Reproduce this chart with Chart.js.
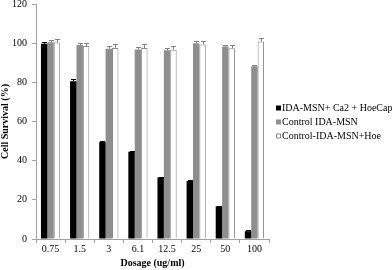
<!DOCTYPE html>
<html>
<head>
<meta charset="utf-8">
<script src="https://cdn.jsdelivr.net/npm/chart.js@4/dist/chart.umd.min.js"></script>
<style>
  html, body { margin: 0; padding: 0; background: #fff; }
  #wrap { width: 392px; height: 270px; }
</style>
</head>
<body>
<div id="wrap"><canvas id="chart" width="392" height="270"></canvas></div>
<script>
const dosages = ["0.75", "1.5", "3", "6.1", "12.5", "25", "50", "100"];
const yTicks = [0, 20, 40, 60, 80, 100, 120];

const treated = [99.7, 80.6, 49.5, 44.6, 31.5, 29.6, 16.7, 4.0];
const treatedErr = [0.8, 1.0, 0.5, 0.5, 0.4, 0.4, 0.4, 0.4];
const controlMsn = [100.5, 99.1, 97.2, 96.8, 96.4, 100.0, 98.3, 88.2];
const controlMsnErr = [1.0, 1.2, 1.2, 1.2, 1.3, 1.2, 0.9, 0.8];
const controlHoe = [100.3, 98.5, 97.5, 97.5, 96.6, 99.3, 97.4, 100.8];
const controlHoeErr = [2.0, 1.8, 2.0, 2.0, 2.0, 1.6, 1.6, 2.0];

const errors = [treatedErr, controlMsnErr, controlHoeErr];
const serif = "'Liberation Serif', 'DejaVu Serif', serif";

// caps drawn on top of each bar
const errorBars = {
  id: "errorBars",
  afterDatasetsDraw(chart) {
    const ctx = chart.ctx;
    const y = chart.scales.y;
    ctx.save();
    ctx.lineWidth = 1;
    chart.data.datasets.forEach(function (ds, i) {
      const meta = chart.getDatasetMeta(i);
      ctx.strokeStyle = i === 0 ? "#000" : "#808080";
      meta.data.forEach(function (bar, j) {
        const top = Math.round(y.getPixelForValue(ds.data[j] + errors[i][j])) + 0.5;
        const x = Math.round(bar.x) + 0.5;
        ctx.beginPath();
        ctx.moveTo(x, bar.y);
        ctx.lineTo(x, top);
        ctx.moveTo(x - 2.5, top);
        ctx.lineTo(x + 2.5, top);
        ctx.stroke();
      });
    });
    ctx.restore();
  }
};

// legend to the right of the plot, like the original
const sideLegend = {
  id: "sideLegend",
  afterDraw(chart) {
    const ctx = chart.ctx;
    const left = chart.chartArea.right + 7;
    const rowY = [108, 122, 136];
    ctx.save();
    ctx.font = "10px " + serif;
    ctx.textBaseline = "middle";
    chart.data.datasets.forEach(function (ds, i) {
      const cy = rowY[i];
      ctx.fillStyle = ds.backgroundColor;
      ctx.fillRect(left, cy - 2.5, 5, 5);
      if (ds.borderWidth) {
        ctx.strokeStyle = ds.borderColor;
        ctx.lineWidth = 1;
        ctx.strokeRect(left + 0.5, cy - 2, 4, 4);
      }
      ctx.fillStyle = "#000";
      ctx.fillText(ds.label, left + 6, cy + 0.5);
    });
    ctx.restore();
  }
};

new Chart(document.getElementById("chart"), {
  type: "bar",
  data: {
    labels: dosages,
    datasets: [
      {
        label: "IDA-MSN+ Ca2 + HoeCap",
        data: treated,
        backgroundColor: "#000000",
        borderColor: "#000000",
        borderWidth: 0
      },
      {
        label: "Control IDA-MSN",
        data: controlMsn,
        backgroundColor: "#8e8e8e",
        borderColor: "#8e8e8e",
        borderWidth: 0
      },
      {
        label: "Control-IDA-MSN+Hoe",
        data: controlHoe,
        backgroundColor: "#ffffff",
        borderColor: "#8a8a8a",
        borderWidth: 1
      }
    ]
  },
  options: {
    responsive: false,
    animation: false,
    layout: { padding: { top: 4, right: 123, left: -1, bottom: 1 } },
    datasets: { bar: { categoryPercentage: 0.66, barPercentage: 1.0 } },
    plugins: {
      tooltip: { enabled: false },
      legend: { display: false }
    },
    scales: {
      x: {
        grid: {
          offset: true,
          drawOnChartArea: false,
          color: "#a0a0a0",
          tickLength: 4
        },
        border: { color: "#a0a0a0" },
        ticks: { font: { family: serif, size: 10 }, color: "#000", padding: 0 },
        title: {
          display: true,
          text: "Dosage (ug/ml)",
          font: { family: serif, size: 10, weight: "bold" },
          color: "#000",
          padding: { top: 2, bottom: 0 }
        }
      },
      y: {
        min: 0,
        max: 120,
        afterBuildTicks(axis) {
          axis.ticks = yTicks.map(v => ({ value: v }));
        },
        afterFit(axis) {
          axis.paddingTop = 0;
          axis.width = 37;
        },
        grid: {
          drawOnChartArea: false,
          color: "#a0a0a0",
          tickLength: 4
        },
        border: { color: "#a0a0a0" },
        ticks: { font: { family: serif, size: 10 }, color: "#000", padding: 5 },
        title: {
          display: true,
          text: "Cell Survival (%)",
          font: { family: serif, size: 10, weight: "bold" },
          color: "#000",
          padding: { top: 0, bottom: 0 }
        }
      }
    }
  },
  plugins: [errorBars, sideLegend]
});
</script>
</body>
</html>
